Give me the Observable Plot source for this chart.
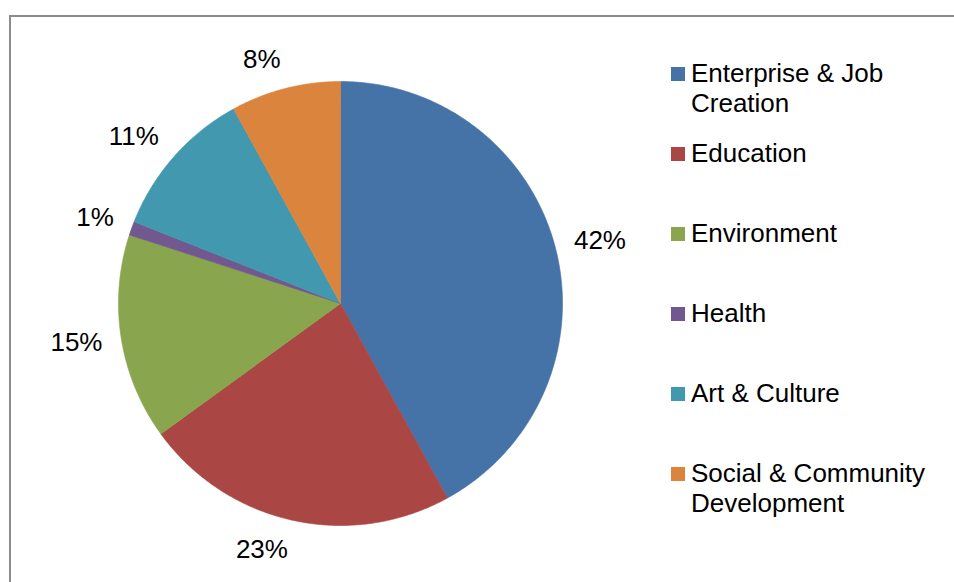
<!DOCTYPE html>
<html>
<head>
<meta charset="utf-8">
<script src="https://cdn.jsdelivr.net/npm/d3@7"></script>
<script src="https://cdn.jsdelivr.net/npm/@observablehq/plot@0.6"></script>
<style>
  html, body { margin: 0; padding: 0; background: #fff; }
  #wrap { position: relative; width: 954px; height: 582px; overflow: hidden; font-family: "Liberation Sans", Arial, sans-serif; }
  #frame { position: absolute; left: 9px; top: 15px; width: 980px; height: 620px; border: 2px solid #8c8c8c; box-sizing: border-box; pointer-events: none; }
  #chart { position: absolute; left: 0; top: 0; }
  #legend { position: absolute; left: 671px; top: 58px; }
  .item { display: flex; align-items: flex-start; height: 80px; }
  .sw { width: 14px; height: 14px; margin-top: 9px; margin-right: 6px; flex: none; }
  .lab { font-size: 26px; line-height: 30px; color: #000; white-space: pre; }
</style>
</head>
<body>
<div id="wrap">
  <div id="frame"></div>
  <div id="chart"></div>
  <div id="legend"></div>
</div>
<script>
const categories = ["Enterprise & Job Creation", "Education", "Environment", "Health", "Art & Culture", "Social & Community Development"];
const legendLabels = ["Enterprise & Job\nCreation", "Education", "Environment", "Health", "Art & Culture", "Social & Community\nDevelopment"];
const values = [42, 23, 15, 1, 11, 8];
const colors = ["#4572A7", "#AA4643", "#89A54E", "#71588F", "#4198AF", "#DB843D"];

const cx = 340, cy = 303, r = 222;
const gap = 19, halfH = 11;

const total = d3.sum(values);
const slices = [];
const labels = [];
let acc = 0;
categories.forEach((name, i) => {
  const a0 = acc / total * 2 * Math.PI;
  acc += values[i];
  const a1 = acc / total * 2 * Math.PI;
  slices.push({name, x: 0, y: 0});
  const steps = Math.max(2, Math.ceil((a1 - a0) / (Math.PI / 360)));
  for (let k = 0; k <= steps; k++) {
    const a = a0 + (a1 - a0) * k / steps;
    slices.push({name, x: Math.sin(a), y: Math.cos(a)});
  }
  slices.push({name, x: 0, y: 0});
  const am = (a0 + a1) / 2;
  const text = values[i] + "%";
  const w = 26 * (0.556 * String(values[i]).length + 0.889);
  const s = Math.sin(am), c = Math.cos(am);
  labels.push({
    text,
    x: s * (r + gap) / r + Math.sign(s) * (w / 2) / r,
    y: c * (r + gap) / r + c * halfH / r
  });
});

const plot = Plot.plot({
  width: 954,
  height: 582,
  margin: 0,
  x: {domain: [-1, 1], range: [cx - r, cx + r], axis: null},
  y: {domain: [-1, 1], range: [cy + r, cy - r], axis: null},
  color: {domain: categories, range: colors, legend: false},
  style: {fontFamily: "'Liberation Sans', Arial, sans-serif", background: "transparent"},
  marks: [
    Plot.line(slices, {x: "x", y: "y", z: "name", fill: "name", stroke: "name", strokeWidth: 0.6, curve: "linear"}),
    Plot.text(labels, {x: "x", y: "y", text: "text", fontSize: 26, fill: "#000", textAnchor: "middle", lineAnchor: "middle"})
  ]
});
document.getElementById("chart").appendChild(plot);

const legend = document.getElementById("legend");
legendLabels.forEach((t, i) => {
  const item = document.createElement("div");
  item.className = "item";
  const sw = document.createElement("div");
  sw.className = "sw";
  sw.style.background = colors[i];
  const lab = document.createElement("div");
  lab.className = "lab";
  lab.textContent = t;
  item.appendChild(sw);
  item.appendChild(lab);
  legend.appendChild(item);
});
</script>
</body>
</html>
